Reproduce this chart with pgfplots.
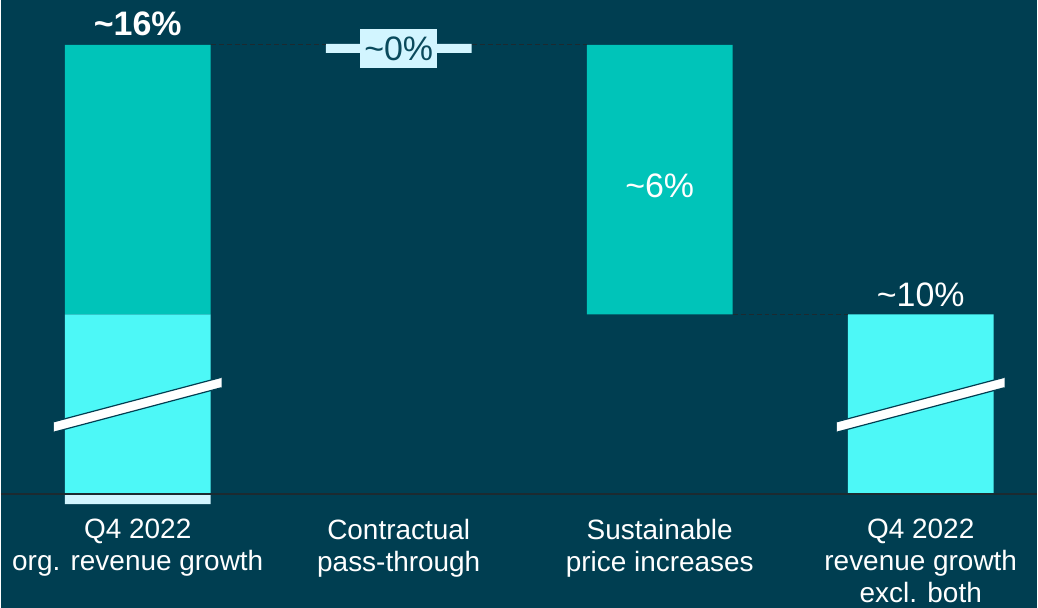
\documentclass[border=0pt]{standalone}
\usepackage{pgfplots}
\pgfplotsset{compat=1.18}
\usepackage{fontspec}
\setmainfont{Liberation Sans}

\definecolor{bg}{HTML}{003E51}
\definecolor{cTeal}{HTML}{00C4B9}
\definecolor{cLight}{HTML}{4DF8F7}
\definecolor{cPale}{HTML}{D2F5FF}
\definecolor{cZeroTxt}{HTML}{0A4A5C}
\definecolor{cDash}{HTML}{1C2A30}

\begin{document}
\begin{tikzpicture}
  \begin{axis}[
      at={(0,0)}, anchor=south west,
      scale only axis,
      width=519pt, height=304.5pt,
      xmin=-0.5239, xmax=3.4455,
      ymin=3.4667, ymax=17,
      axis background/.style={fill=bg},
      ybar stacked,
      bar width=0.558,
      axis line style={draw=none},
      tick style={draw=none},
      ytick=\empty,
      xtick={0,1,2,3},
      xticklabels={Q4 2022\\org. revenue growth,
                   Contractual\\pass-through,
                   Sustainable\\price increases,
                   Q4 2022\\revenue growth\\excl. both},
      xticklabel style={align=center, text=white, inner sep=0pt,
                        font=\fontsize{14}{16}\selectfont, yshift=44.7pt},
    ]
    % invisible base
    \addplot[draw=none, fill=none] coordinates {(0,5.778) (1,15.822) (2,10) (3,6)};
    % pale (pass-through)
    \addplot[draw=none, fill=cPale] coordinates {(0,0.222) (1,0.2) (2,0) (3,0)};
    % remaining growth
    \addplot[draw=none, fill=cLight] coordinates {(0,4) (1,0) (2,0) (3,4)};
    % price increases
    \addplot[draw=none, fill=cTeal] coordinates {(0,6) (1,0) (2,6) (3,0)};

    % anchor points for the annotations drawn after the axis
    \coordinate (d1a) at (axis cs:0.279,16);
    \coordinate (d1b) at (axis cs:0.721,16);
    \coordinate (d1c) at (axis cs:1.279,16);
    \coordinate (d1d) at (axis cs:1.721,16);
    \coordinate (d2a) at (axis cs:2.279,10);
    \coordinate (d2b) at (axis cs:2.721,10);
    \coordinate (bl0) at (axis cs:-0.5239,6);
    \coordinate (bl1) at (axis cs:3.4455,6);
    \coordinate (k1) at (axis cs:-0.321,7.378);
    \coordinate (k2) at (axis cs:0.321,8.367);
    \coordinate (k3) at (axis cs:0.321,8.6);
    \coordinate (k4) at (axis cs:-0.321,7.611);
    \coordinate (m1) at (axis cs:2.679,7.378);
    \coordinate (m2) at (axis cs:3.321,8.367);
    \coordinate (m3) at (axis cs:3.321,8.6);
    \coordinate (m4) at (axis cs:2.679,7.611);
    \coordinate (l0) at (axis cs:0,16.2);
    \coordinate (l1) at (axis cs:1,15.92);
    \coordinate (l2) at (axis cs:2,12.6);
    \coordinate (l3) at (axis cs:3,10.18);
  \end{axis}

  % connectors
  \draw[cDash, line width=0.5pt, dash pattern=on 2.5pt off 1.5pt] (d1a) -- (d1b);
  \draw[cDash, line width=0.5pt, dash pattern=on 2.5pt off 1.5pt] (d1c) -- (d1d);
  \draw[cDash, line width=0.5pt, dash pattern=on 2.5pt off 1.5pt] (d2a) -- (d2b);
  % baseline
  \draw[cDash, line width=1pt] (bl0) -- (bl1);
  % axis break marks
  \fill[white] (k1) -- (k2) -- (k3) -- (k4) -- cycle;
  \draw[bg, line width=0.6pt] (k1) -- (k2) (k4) -- (k3);
  \fill[white] (m1) -- (m2) -- (m3) -- (m4) -- cycle;
  \draw[bg, line width=0.6pt] (m1) -- (m2) (m4) -- (m3);
  % value labels
  \node[anchor=base, text=white, font=\fontsize{17}{20}\selectfont\bfseries]
    at (l0) {\textasciitilde16\%};
  \node[anchor=center, fill=cPale, text=cZeroTxt, inner xsep=2pt, inner ysep=0pt,
        minimum height=19.5pt, font=\fontsize{17}{20}\selectfont]
    at (l1) {\textasciitilde0\%};
  \node[anchor=base, text=white, font=\fontsize{17}{20}\selectfont]
    at (l2) {\textasciitilde6\%};
  \node[anchor=base, text=white, font=\fontsize{17}{20}\selectfont]
    at (l3) {\textasciitilde10\%};
\end{tikzpicture}
\end{document}
